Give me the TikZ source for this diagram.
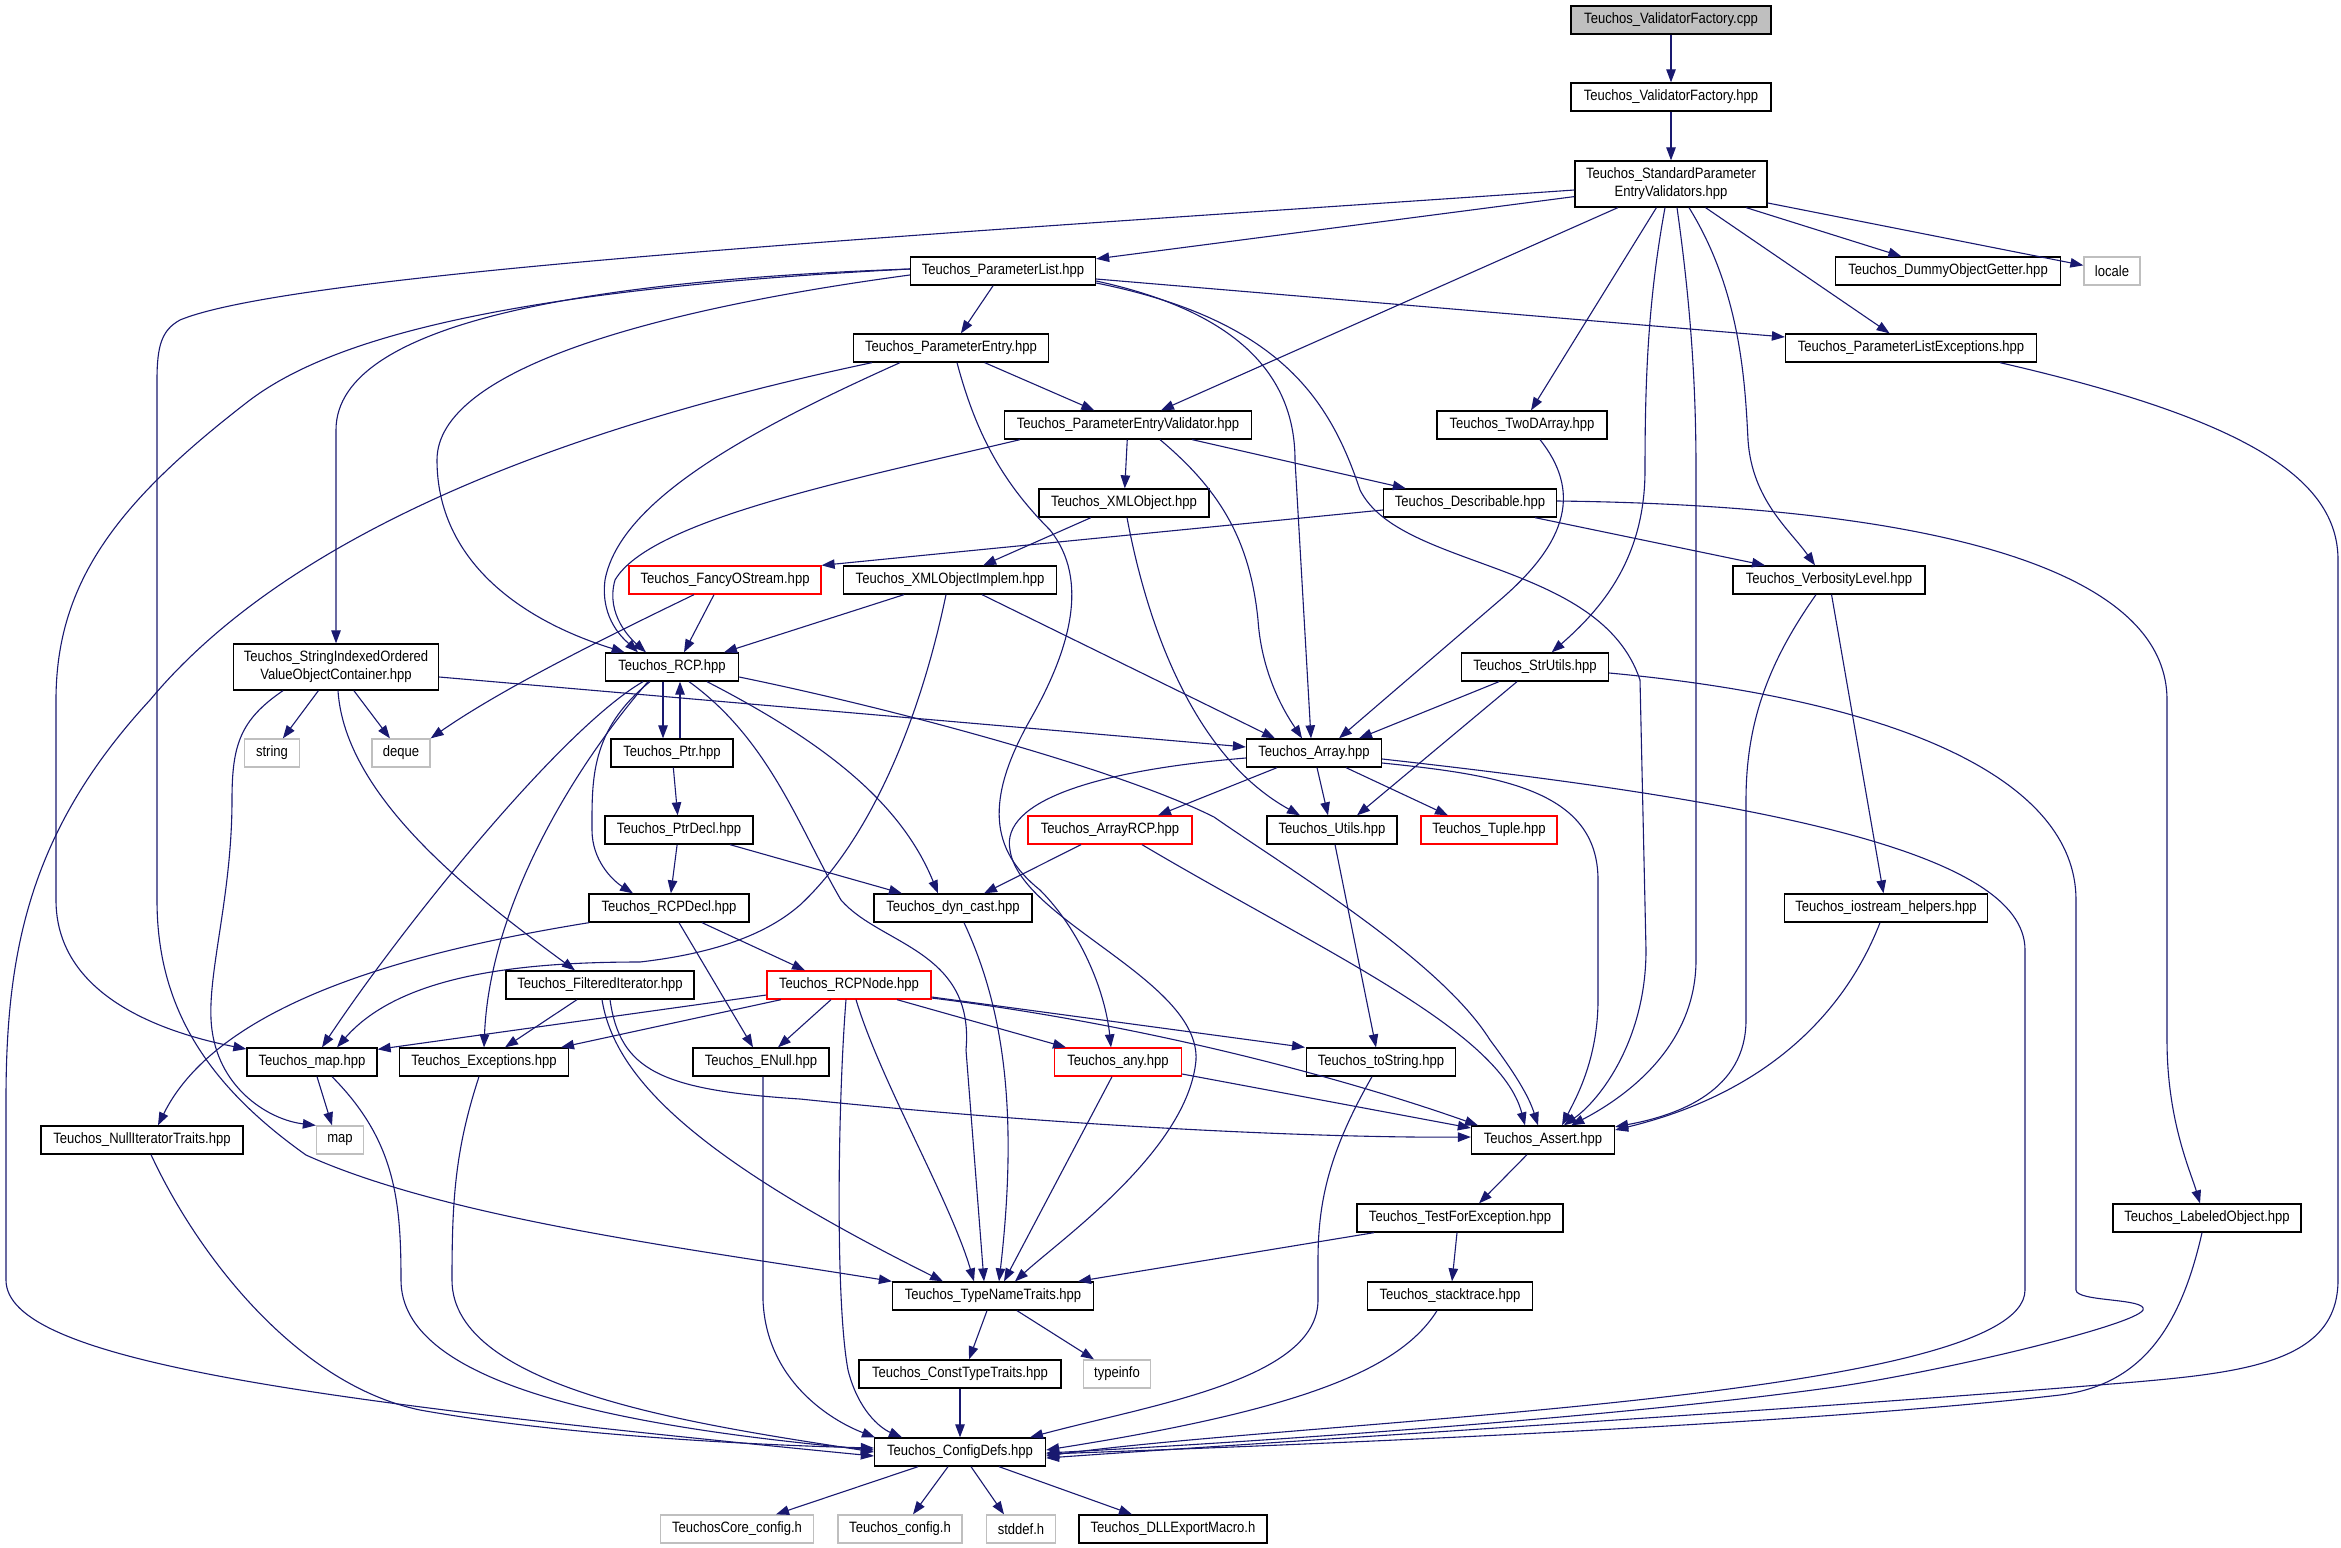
\documentclass[tikz,border=0pt]{standalone}
\usepackage{fontspec}
\setmainfont{Liberation Sans}[FakeStretch=0.87]
\usetikzlibrary{arrows.meta}
\definecolor{edgeblue}{RGB}{25,25,112}
\definecolor{softgray}{RGB}{191,191,191}
\definecolor{cppfill}{RGB}{191,191,191}
\tikzset{
  box/.style={draw=black, line width=1.3pt, fill=white, minimum height=28pt, inner sep=0pt,
    font=\fontsize{15}{18}\selectfont, align=center, text=black},
  redbox/.style={box, draw=red},
  greybox/.style={box, draw=softgray},
  edge/.style={draw=edgeblue, line width=1.1pt, -{Triangle[length=13pt,width=9.5pt]}},
}
\begin{document}
\begin{tikzpicture}[x=1pt,y=-1pt]
\fill[white] (0,0) rectangle (2341,1547);
\useasboundingbox (0,0) rectangle (2341,1547);

% ---------------- nodes ----------------
\node[box, fill=cppfill, minimum width=200pt] (cpp) at (1671,20) {Teuchos\_ValidatorFactory.cpp};
\node[box, minimum width=200pt] (vfh) at (1671,97) {Teuchos\_ValidatorFactory.hpp};
\node[box, minimum width=192pt, minimum height=46pt] (sp) at (1671,184) {Teuchos\_StandardParameter\\EntryValidators.hpp};
\node[box, minimum width=185pt] (pl) at (1003,271) {Teuchos\_ParameterList.hpp};
\node[box, minimum width=225pt] (dummy) at (1948,271) {Teuchos\_DummyObjectGetter.hpp};
\node[greybox, minimum width=56pt] (locale) at (2112,271) {locale};
\node[box, minimum width=195pt] (pe) at (951,348) {Teuchos\_ParameterEntry.hpp};
\node[box, minimum width=251pt] (ple) at (1911,348) {Teuchos\_ParameterListExceptions.hpp};
\node[box, minimum width=247pt] (pev) at (1128,425) {Teuchos\_ParameterEntryValidator.hpp};
\node[box, minimum width=170pt] (two) at (1522,425) {Teuchos\_TwoDArray.hpp};
\node[box, minimum width=170pt] (xmlo) at (1124,503) {Teuchos\_XMLObject.hpp};
\node[box, minimum width=173pt] (desc) at (1470,503) {Teuchos\_Describable.hpp};
\node[redbox, minimum width=192pt] (fancy) at (725,580) {Teuchos\_FancyOStream.hpp};
\node[box, minimum width=213pt] (xmli) at (950,580) {Teuchos\_XMLObjectImplem.hpp};
\node[box, minimum width=192pt] (verb) at (1829,580) {Teuchos\_VerbosityLevel.hpp};
\node[box, minimum width=205pt, minimum height=46pt] (siovoc) at (336,667) {Teuchos\_StringIndexedOrdered\\ValueObjectContainer.hpp};
\node[box, minimum width=133pt] (rcp) at (672,667) {Teuchos\_RCP.hpp};
\node[box, minimum width=147pt] (strutils) at (1535,667) {Teuchos\_StrUtils.hpp};
\node[greybox, minimum width=55pt] (string) at (272,753) {string};
\node[greybox, minimum width=58pt] (deque) at (401,753) {deque};
\node[box, minimum width=122pt] (ptr) at (672,753) {Teuchos\_Ptr.hpp};
\node[box, minimum width=135pt] (array) at (1314,753) {Teuchos\_Array.hpp};
\node[box, minimum width=148pt] (ptrdecl) at (679,830) {Teuchos\_PtrDecl.hpp};
\node[redbox, minimum width=164pt] (arrayrcp) at (1110,830) {Teuchos\_ArrayRCP.hpp};
\node[box, minimum width=130pt] (utils) at (1332,830) {Teuchos\_Utils.hpp};
\node[redbox, minimum width=136pt] (tuple) at (1489,830) {Teuchos\_Tuple.hpp};
\node[box, minimum width=160pt] (rcpdecl) at (669,908) {Teuchos\_RCPDecl.hpp};
\node[box, minimum width=158pt] (dyncast) at (953,908) {Teuchos\_dyn\_cast.hpp};
\node[box, minimum width=203pt] (iostream) at (1886,908) {Teuchos\_iostream\_helpers.hpp};
\node[box, minimum width=188pt] (filtered) at (600,985) {Teuchos\_FilteredIterator.hpp};
\node[redbox, minimum width=164pt] (rcpnode) at (849,985) {Teuchos\_RCPNode.hpp};
\node[box, minimum width=130pt] (maph) at (312,1062) {Teuchos\_map.hpp};
\node[box, minimum width=169pt] (exc) at (484,1062) {Teuchos\_Exceptions.hpp};
\node[box, minimum width=136pt] (enull) at (761,1062) {Teuchos\_ENull.hpp};
\node[redbox, minimum width=127pt] (any) at (1118,1062) {Teuchos\_any.hpp};
\node[box, minimum width=149pt] (tostring) at (1381,1062) {Teuchos\_toString.hpp};
\node[box, minimum width=202pt] (nullit) at (142,1140) {Teuchos\_NullIteratorTraits.hpp};
\node[greybox, minimum width=47pt] (map) at (340,1140) {map};
\node[box, minimum width=143pt] (assert) at (1543,1140) {Teuchos\_Assert.hpp};
\node[box, minimum width=206pt] (tfe) at (1460,1218) {Teuchos\_TestForException.hpp};
\node[box, minimum width=188pt] (labeled) at (2207,1218) {Teuchos\_LabeledObject.hpp};
\node[box, minimum width=201pt] (tnt) at (993,1296) {Teuchos\_TypeNameTraits.hpp};
\node[box, minimum width=165pt] (stack) at (1450,1296) {Teuchos\_stacktrace.hpp};
\node[box, minimum width=202pt] (ctt) at (960,1374) {Teuchos\_ConstTypeTraits.hpp};
\node[greybox, minimum width=67pt] (typeinfo) at (1117,1374) {typeinfo};
\node[box, minimum width=171pt] (cd) at (960,1452) {Teuchos\_ConfigDefs.hpp};
\node[greybox, minimum width=153pt] (corecfg) at (737,1529) {TeuchosCore\_config.h};
\node[greybox, minimum width=124pt] (tcfg) at (900,1529) {Teuchos\_config.h};
\node[greybox, minimum width=69pt] (stddef) at (1021,1529) {stddef.h};
\node[box, minimum width=188pt] (dll) at (1173,1529) {Teuchos\_DLLExportMacro.h};

% ---------------- edges ----------------
\draw[edge] (cpp) -- (vfh);
\draw[edge] (vfh) -- (sp);
\draw[edge] (sp) -- (pl);
\draw[edge] (sp) -- (dummy);
\draw[edge] (sp) -- (locale);
\draw[edge] (sp) -- (ple);
\draw[edge] (sp) -- (pev);
\draw[edge] (sp) -- (two);
\draw[edge] ([xshift=-6pt]sp.south) .. controls (1648,300) and (1645,380) .. (1645,470) .. controls (1645,560) and (1600,610) .. (strutils);
\draw[edge] ([xshift=6pt]sp.south) .. controls (1690,300) and (1696,380) .. (1696,470) -- (1696,960) .. controls (1696,1050) and (1620,1100) .. (assert);
\draw[edge] ([xshift=18pt]sp.south) .. controls (1740,290) and (1745,380) .. (1748,440) .. controls (1752,500) and (1790,530) .. ([xshift=-14pt]verb.north);
\draw[edge] ([yshift=-6pt]sp.west) .. controls (1000,230) and (300,270) .. (180,320) .. controls (162,330) and (157,345) .. (157,380) -- (157,900) .. controls (157,1000) and (200,1080) .. (306,1155) .. controls (450,1220) and (700,1250) .. (tnt.north west);

\draw[edge] (pl) -- (pe);
\draw[edge] ([yshift=-8pt]pl.east) -- ([yshift=11pt]ple.west);
\draw[edge] ([yshift=2pt]pl.west) .. controls (600,280) and (336,320) .. (336,430) -- (siovoc);
\draw[edge] ([yshift=2pt]pl.west) .. controls (500,290) and (330,340) .. (250,400) .. controls (120,500) and (56,580) .. (56,700) -- (56,900) .. controls (56,990) and (150,1030) .. (maph);
\draw[edge] ([yshift=-4pt]pl.west) .. controls (650,310) and (437,370) .. (437,460) .. controls (437,560) and (520,620) .. (rcp);
\draw[edge] ([yshift=-10pt]pl.east) .. controls (1230,310) and (1295,370) .. (1295,460) -- ([xshift=-3pt]array.north);
\draw[edge] ([yshift=-12pt]pl.east) .. controls (1280,320) and (1330,400) .. (1360,490) .. controls (1400,570) and (1600,560) .. (1640,680) -- (1646,950) .. controls (1646,1040) and (1600,1100) .. (assert);

\draw[edge] (pe) -- (pev);
\draw[edge] ([xshift=-51pt]pe.south) .. controls (750,430) and (620,500) .. (605,580) .. controls (600,620) and (625,640) .. ([xshift=-34pt]rcp.north);
\draw[edge] ([xshift=-79pt]pe.south) .. controls (600,420) and (300,520) .. (150,700) .. controls (30,830) and (6,950) .. (6,1100) -- (6,1280) .. controls (6,1360) and (300,1400) .. ([yshift=-4pt]cd.west);
\draw[edge] ([xshift=6pt]pe.south) .. controls (975,430) and (1000,480) .. (1050,530) .. controls (1090,580) and (1070,650) .. (1030,720) .. controls (985,800) and (990,850) .. (1040,890) .. controls (1080,930) and (1105,990) .. ([xshift=-7pt]any.north);

\draw[edge] (pev) -- (xmlo);
\draw[edge] (pev) -- (desc);
\draw[edge] ([xshift=-108pt]pev.south) .. controls (850,480) and (650,520) .. (615,580) .. controls (605,615) and (632,640) .. ([xshift=-26pt]rcp.north);
\draw[edge] ([xshift=32pt]pev.south) .. controls (1220,490) and (1250,540) .. (1258,620) .. controls (1262,680) and (1290,720) .. ([xshift=-12pt]array.north);

\draw[edge] ([xshift=18pt]two.south) .. controls (1580,490) and (1570,540) .. (1500,600) -- ([xshift=25pt]array.north);

\draw[edge] (xmlo) -- (xmli);
\draw[edge] ([xshift=3pt]xmlo.south) .. controls (1150,640) and (1200,760) .. ([xshift=-32pt]utils.north);

\draw[edge] ([yshift=-7pt]desc.west) -- (fancy.north east);
\draw[edge] ([xshift=65pt]desc.south) -- ([xshift=-64pt]verb.north);
\draw[edge] ([yshift=2pt]desc.east) .. controls (1900,505) and (2167,560) .. (2167,700) -- (2167,1040) .. controls (2167,1120) and (2190,1170) .. ([xshift=-7pt]labeled.north);

\draw[edge] ([xshift=-11pt]fancy.south) -- ([xshift=12pt]rcp.north);
\draw[edge] ([xshift=-31pt]fancy.south) .. controls (600,640) and (500,690) .. (deque.north east);

\draw[edge] ([xshift=-46pt]xmli.south) -- ([xshift=52pt]rcp.north);
\draw[edge] ([xshift=32pt]xmli.south) -- ([xshift=-39pt]array.north);
\draw[edge] ([xshift=-4pt]xmli.south) .. controls (920,720) and (870,840) .. (800,905) .. controls (760,940) and (700,955) .. (640,962) .. controls (520,962) and (400,975) .. ([xshift=25pt]maph.north);

\draw[edge] ([xshift=-13pt]verb.south) .. controls (1770,660) and (1746,720) .. (1746,800) -- (1746,1020) .. controls (1746,1090) and (1680,1115) .. (assert);
\draw[edge] (verb) -- (iostream);

\draw[edge] ([yshift=-10pt]siovoc.east) -- ([yshift=6pt]array.west);
\draw[edge] (siovoc) -- (string);
\draw[edge] (siovoc) -- (deque);
\draw[edge] ([xshift=2pt]siovoc.south) .. controls (345,800) and (480,900) .. ([xshift=-25pt]filtered.north);
\draw[edge] ([xshift=-53pt]siovoc.south) .. controls (240,720) and (232,745) .. (232,800) .. controls (232,900) and (205,980) .. (212,1030) .. controls (220,1090) and (270,1120) .. (map.north west);

\draw[edge] ([xshift=-9pt]rcp.south) -- ([xshift=-9pt]ptr.north);
\draw[edge] ([xshift=8pt]ptr.north) -- ([xshift=8pt]rcp.south);
\draw[edge] ([xshift=-22pt]rcp.south) .. controls (590,730) and (592,780) .. (592,830) .. controls (592,860) and (612,880) .. ([xshift=-36pt]rcpdecl.north);
\draw[edge] ([xshift=-29pt]rcp.south) .. controls (560,730) and (400,930) .. ([xshift=10pt]maph.north);
\draw[edge] ([xshift=-24pt]rcp.south) .. controls (580,760) and (490,900) .. (exc.north);
\draw[edge] ([xshift=35pt]rcp.south) .. controls (820,740) and (900,800) .. ([xshift=-15pt]dyncast.north);
\draw[edge] ([xshift=17pt]rcp.south) .. controls (770,740) and (800,830) .. (841,900) .. controls (880,945) and (975,950) .. (966,1050) -- ([xshift=-9pt]tnt.north);
\draw[edge] ([yshift=-10pt]rcp.east) .. controls (900,710) and (1120,770) .. (1214,817) .. controls (1290,870) and (1440,960) .. (1490,1040) .. controls (1520,1080) and (1530,1100) .. ([xshift=-5pt]assert.north);

\draw[edge] (ptr) -- (ptrdecl);
\draw[edge] (ptrdecl) -- (rcpdecl);
\draw[edge] ([xshift=51pt]ptrdecl.south) -- ([xshift=-51pt]dyncast.north);

\draw[edge] ([xshift=-37pt]array.south) -- ([xshift=48pt]arrayrcp.north);
\draw[edge] ([xshift=3pt]array.south) -- ([xshift=-4pt]utils.north);
\draw[edge] ([xshift=32pt]array.south) -- ([xshift=-41pt]tuple.north);
\draw[edge] ([yshift=-10pt]array.east) .. controls (1500,775) and (1598,790) .. (1598,880) -- (1598,1000) .. controls (1598,1060) and (1575,1100) .. ([xshift=19pt]assert.north);
\draw[edge] ([yshift=-6pt]array.east) .. controls (1750,800) and (2025,850) .. (2025,950) -- (2025,1290) .. controls (2025,1400) and (1300,1420) .. ([yshift=-4pt]cd.east);
\draw[edge] ([yshift=-5pt]array.west) .. controls (1100,770) and (1000,800) .. (1010,850) .. controls (1020,920) and (1200,980) .. (1196,1060) .. controls (1188,1150) and (1060,1240) .. ([xshift=22pt]tnt.north);

\draw[edge] ([xshift=-36pt]strutils.south) -- ([xshift=45pt]array.north);
\draw[edge] ([xshift=-18pt]strutils.south) -- ([xshift=25pt]utils.north);
\draw[edge] ([yshift=-6pt]strutils.east) .. controls (1900,700) and (2076,780) .. (2076,900) -- (2076,1290) .. controls (2076,1302) and (2148,1298) .. (2143,1310) .. controls (2135,1325) and (1950,1370) .. (1835,1387) .. controls (1600,1420) and (1200,1445) .. ([yshift=-1pt]cd.east);

\draw[edge] ([xshift=3pt]utils.south) -- ([xshift=-5pt]tostring.north);
\draw[edge] ([xshift=-29pt]arrayrcp.south) -- ([xshift=31pt]dyncast.north);
\draw[edge] ([xshift=32pt]arrayrcp.south) .. controls (1320,950) and (1500,1030) .. ([xshift=-18pt]assert.north);
\draw[edge] ([xshift=11pt]dyncast.south) .. controls (1000,1000) and (1020,1100) .. ([xshift=6pt]tnt.north);

\draw[edge] ([xshift=33pt]rcpdecl.south) -- ([xshift=-44pt]rcpnode.north);
\draw[edge] ([xshift=10pt]rcpdecl.south) -- ([xshift=-8pt]enull.north);
\draw[edge] ([xshift=-80pt]rcpdecl.south) .. controls (420,950) and (220,1000) .. ([xshift=16pt]nullit.north);

\draw[edge] ([xshift=-23pt]filtered.south) -- ([xshift=21pt]exc.north);
\draw[edge] ([xshift=2pt]filtered.south) .. controls (615,1080) and (700,1160) .. ([xshift=-50pt]tnt.north);
\draw[edge] ([xshift=10pt]filtered.south) .. controls (620,1070) and (660,1090) .. (800,1099) .. controls (1100,1130) and (1350,1138) .. ([yshift=3pt]assert.west);

\draw[edge] ([yshift=-10pt]rcpnode.west) -- ([yshift=-2pt]maph.north east);
\draw[edge] ([xshift=-68pt]rcpnode.south) -- ([xshift=77pt]exc.north);
\draw[edge] ([xshift=-18pt]rcpnode.south) -- ([xshift=17pt]enull.north);
\draw[edge] ([xshift=-3pt]rcpnode.south) .. controls (838,1100) and (835,1300) .. (848,1370) .. controls (858,1410) and (880,1428) .. ([xshift=-58pt]cd.north);
\draw[edge] ([xshift=7pt]rcpnode.south) .. controls (880,1080) and (950,1200) .. ([xshift=-19pt]tnt.north);
\draw[edge] ([xshift=48pt]rcpnode.south) -- ([xshift=-52pt]any.north);
\draw[edge] ([yshift=-12pt]rcpnode.east) -- ([xshift=-76pt]tostring.north);
\draw[edge] ([yshift=-13pt]rcpnode.east) .. controls (1150,1025) and (1350,1080) .. ([xshift=-65pt]assert.north);

\draw[edge] ([xshift=2pt]enull.south) -- (763,1300) .. controls (766,1380) and (830,1420) .. ([xshift=-85pt]cd.north);
\draw[edge] ([xshift=-6pt]any.south) -- ([xshift=11pt]tnt.north);
\draw[edge] ([yshift=-12pt]any.east) -- ([yshift=12pt]assert.west);
\draw[edge] ([xshift=-9pt]tostring.south) .. controls (1330,1150) and (1318,1200) .. (1318,1260) -- (1318,1300) .. controls (1318,1380) and (1150,1405) .. ([xshift=70pt]cd.north);

\draw[edge] ([xshift=9pt]nullit.south) .. controls (200,1260) and (300,1385) .. (420,1410) .. controls (560,1435) and (750,1445) .. ([yshift=4pt]cd.west);
\draw[edge] ([xshift=5pt]maph.south) -- ([xshift=-8pt]map.north);
\draw[edge] ([xshift=20pt]maph.south) .. controls (395,1140) and (401,1200) .. (401,1280) .. controls (401,1380) and (600,1425) .. ([yshift=2pt]cd.west);
\draw[edge] ([xshift=-5pt]exc.south) .. controls (455,1150) and (452,1200) .. (452,1280) .. controls (452,1390) and (700,1425) .. (cd.west);

\draw[edge] ([xshift=89pt]ple.south) .. controls (2250,420) and (2338,480) .. (2338,560) -- (2338,1280) .. controls (2338,1360) and (2250,1372) .. (2135,1382) .. controls (1800,1410) and (1300,1440) .. ([yshift=-6pt]cd.east);
\draw[edge] ([xshift=-5pt]labeled.south) .. controls (2180,1330) and (2140,1385) .. (2060,1395) .. controls (1800,1425) and (1300,1445) .. ([yshift=-2pt]cd.east);
\draw[edge] ([xshift=-13pt]stack.south) .. controls (1400,1370) and (1300,1410) .. ([yshift=2pt]cd.east);
\draw[edge] ([xshift=-6pt]iostream.south) .. controls (1850,1000) and (1780,1090) .. ([yshift=10pt]assert.east);

\draw[edge] ([xshift=-16pt]assert.south) -- ([xshift=19pt]tfe.north);
\draw[edge] ([xshift=-86pt]tfe.south) -- ([xshift=85pt]tnt.north);
\draw[edge] ([xshift=-3pt]tfe.south) -- ([xshift=2pt]stack.north);
\draw[edge] ([xshift=-6pt]tnt.south) -- ([xshift=9pt]ctt.north);
\draw[edge] ([xshift=24pt]tnt.south) -- ([xshift=-23pt]typeinfo.north);
\draw[edge] (ctt) -- (cd);
\draw[edge] ([xshift=-42pt]cd.south) -- ([xshift=39pt]corecfg.north);
\draw[edge] ([xshift=-12pt]cd.south) -- ([xshift=13pt]tcfg.north);
\draw[edge] ([xshift=11pt]cd.south) -- ([xshift=-17pt]stddef.north);
\draw[edge] ([xshift=39pt]cd.south) -- ([xshift=-41pt]dll.north);
\end{tikzpicture}
\end{document}
